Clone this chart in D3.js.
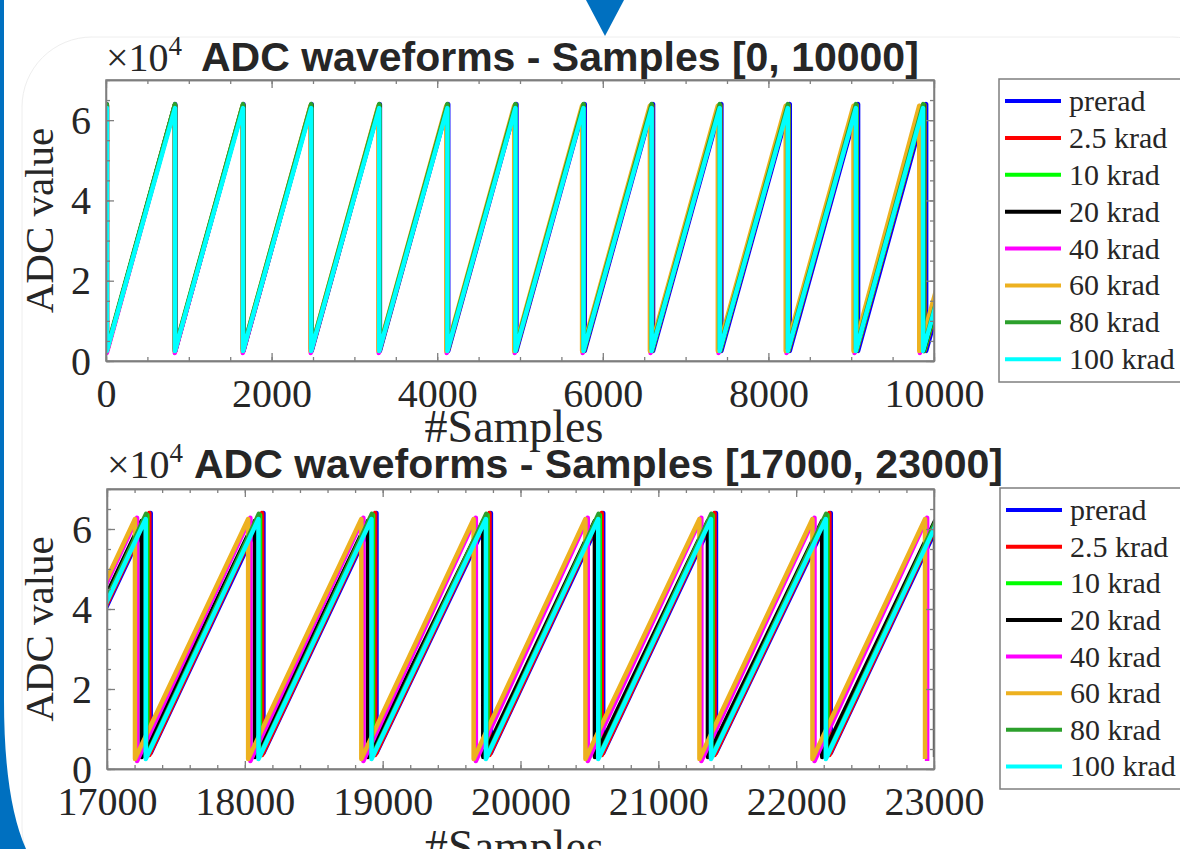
<!DOCTYPE html>
<html>
<head>
<meta charset="utf-8">
<script src="https://cdn.jsdelivr.net/npm/d3@7"></script>
<style>
  html, body { margin: 0; padding: 0; background: #fff; }
  svg { display: block; }
</style>
</head>
<body>
<svg width="1180" height="849"></svg>
<script>
// series, in drawing order (last one ends up on top)
const seriesNames = ['prerad', '2.5 krad', '10 krad', '20 krad', '40 krad', '60 krad', '80 krad', '100 krad'];
const seriesColors = ['#0000ff', '#ff0000', '#00ff00', '#000000', '#ff00ff', '#edb120', '#2ca02c', '#00ffff'];

const topTicksX = [0, 2000, 4000, 6000, 8000, 10000];
const bottomTicksX = [17000, 18000, 19000, 20000, 21000, 22000, 23000];
const ticksY = [0, 2, 4, 6];

// value at sample 0 (x10^4), top window
const topFirst = [6.3, 6.3, 6.3, 6.3, 6.3, 6.3, 6.3, 6.3];
// sample index where each ramp resets, top window [0, 10000]
const topResets = [
  [10, 836, 1660, 2484, 3308, 4133, 4957, 5782, 6607, 7432, 8258, 9083, 9905, 10730],
  [10, 834, 1657, 2480, 3303, 4126, 4949, 5772, 6596, 7419, 8243, 9066, 9885, 10710],
  [10, 833, 1656, 2479, 3302, 4125, 4947, 5770, 6593, 7416, 8239, 9062, 9880, 10705],
  [10, 833, 1655, 2478, 3300, 4122, 4944, 5766, 6589, 7411, 8233, 9055, 9872, 10695],
  [10, 831, 1652, 2473, 3294, 4115, 4936, 5757, 6577, 7398, 8219, 9040, 9830, 10650],
  [10, 830, 1650, 2470, 3290, 4110, 4930, 5750, 6569, 7389, 8209, 9028, 9822, 10640],
  [10, 833, 1655, 2478, 3300, 4123, 4945, 5767, 6590, 7413, 8236, 9058, 9870, 10695],
  [10, 833, 1655, 2478, 3300, 4123, 4945, 5767, 6590, 7412, 8235, 9057, 9868, 10690]
];
const topPeaks = [6.4, 6.38, 6.38, 6.38, 6.35, 6.36, 6.4, 6.3];
const topLows = [0.25, 0.25, 0.25, 0.25, 0.2, 0.25, 0.3, 0.25];

// sample index where each ramp resets, bottom window [17000, 23000]
const bottomResets = [
  [16497, 17317, 18135, 18955, 19785, 20600, 21418, 22251, 23070],
  [16487, 17307, 18125, 18945, 19775, 20590, 21408, 22241, 23060],
  [16472, 17292, 18110, 18930, 19760, 20575, 21393, 22226, 23045],
  [16435, 17252, 18073, 18893, 19730, 20540, 21360, 22189, 23008],
  [16398, 17218, 18040, 18860, 19676, 20488, 21312, 22133, 22950],
  [16383, 17203, 18024, 18845, 19660, 20471, 21298, 22118, 22935],
  [16464, 17284, 18102, 18922, 19752, 20567, 21385, 22218, 23037],
  [16461, 17281, 18099, 18919, 19749, 20564, 21382, 22215, 23034]
];
const bottomPeaks = [6.4, 6.4, 6.35, 6.2, 6.28, 6.25, 6.38, 6.25];
const bottomLows = [0.4, 0.35, 0.35, 0.3, 0.2, 0.25, 0.3, 0.25];

const svg = d3.select('svg');
const axisGray = '#7f7f7f';
const textColor = '#262626';
const serif = '"Liberation Serif", "Times New Roman", serif';
const sans = '"Liberation Sans", Arial, sans-serif';

// ---- slide background ----
svg.append('rect').attr('width', 1180).attr('height', 849).attr('fill', '#fff');
svg.append('rect')
  .attr('x', 22).attr('y', 37).attr('width', 1220).attr('height', 860)
  .attr('rx', 70).attr('fill', 'none').attr('stroke', '#eeeeee').attr('stroke-width', 1);
svg.append('path')
  .attr('d', 'M0,0 H4 V700 Q4,800 26,849 H0 Z')
  .attr('fill', '#0070c0');
svg.append('path')
  .attr('d', 'M586,0 L624,0 L605,36 Z')
  .attr('fill', '#0070c0');

// build the polyline vertices of one sawtooth series
function sawtooth(resets, peak, low, first) {
  const pts = [];
  if (first != null) pts.push([0, first]);
  resets.forEach(r => {
    pts.push([r, peak]);
    pts.push([r, low]);
  });
  return pts;
}

function drawPanel(cfg) {
  const { id, x, y, xTicks, xMinor, resets, peaks, lows, firsts, title, titleX, titleY, labelY, legendBox } = cfg;
  const [xl, xr] = x.range();
  const [yb, yt] = y.range();
  const g = svg.append('g');

  g.append('clipPath').attr('id', id)
    .append('rect').attr('x', xl).attr('y', yt).attr('width', xr - xl).attr('height', yb - yt);

  const line = d3.line().x(d => x(d[0])).y(d => y(d[1]));

  const lines = g.append('g').attr('clip-path', `url(#${id})`);
  resets.forEach((r, i) => {
    lines.append('path')
      .attr('d', line(sawtooth(r, peaks[i], lows[i], firsts ? firsts[i] : null)))
      .attr('fill', 'none')
      .attr('stroke', seriesColors[i])
      .attr('stroke-width', 4.5)
      .attr('stroke-linejoin', 'round');
  });

  const yMinor = d3.range(0, 7.01, 0.5);

  // bottom axis with labels
  const bottom = g.append('g').attr('transform', `translate(0,${yb})`)
    .call(d3.axisBottom(x).tickValues(xTicks).tickSize(-8).tickSizeOuter(0).tickFormat(d3.format('d')));
  bottom.selectAll('text')
    .attr('y', 46).attr('dy', null)
    .attr('fill', textColor)
    .style('font-family', serif).style('font-size', '40px');
  g.append('g').attr('transform', `translate(0,${yb})`)
    .call(d3.axisBottom(x).tickValues(xMinor).tickSize(-4).tickSizeOuter(0).tickFormat(''));
  g.append('g').attr('transform', `translate(0,${yt})`)
    .call(d3.axisTop(x).tickValues(xTicks).tickSize(-8).tickSizeOuter(0).tickFormat(''));
  g.append('g').attr('transform', `translate(0,${yt})`)
    .call(d3.axisTop(x).tickValues(xMinor).tickSize(-4).tickSizeOuter(0).tickFormat(''));

  const left = g.append('g').attr('transform', `translate(${xl},0)`)
    .call(d3.axisLeft(y).tickValues(ticksY).tickSize(-8).tickSizeOuter(0).tickFormat(d3.format('d')));
  left.selectAll('text')
    .attr('x', -15).attr('dy', '0.33em')
    .attr('fill', textColor)
    .style('font-family', serif).style('font-size', '40px');
  g.append('g').attr('transform', `translate(${xl},0)`)
    .call(d3.axisLeft(y).tickValues(yMinor).tickSize(-4).tickSizeOuter(0).tickFormat(''));
  g.append('g').attr('transform', `translate(${xr},0)`)
    .call(d3.axisRight(y).tickValues(ticksY).tickSize(-8).tickSizeOuter(0).tickFormat(''));
  g.append('g').attr('transform', `translate(${xr},0)`)
    .call(d3.axisRight(y).tickValues(yMinor).tickSize(-4).tickSizeOuter(0).tickFormat(''));

  g.selectAll('.domain, .tick line').attr('stroke', axisGray).attr('stroke-width', 1.3);
  g.append('rect')
    .attr('x', xl).attr('y', yt).attr('width', xr - xl).attr('height', yb - yt)
    .attr('fill', 'none').attr('stroke', axisGray).attr('stroke-width', 1.5);

  // exponent
  const expo = g.append('text')
    .attr('x', xl).attr('y', titleY)
    .attr('fill', textColor)
    .style('font-family', serif).style('font-size', '40px');
  expo.append('tspan').text('\u00d710');
  expo.append('tspan').attr('dy', -16).style('font-size', '27px').text('4');

  // title
  g.append('text')
    .attr('x', titleX).attr('y', titleY)
    .attr('fill', textColor)
    .style('font-family', sans).style('font-weight', 'bold').style('font-size', '41px')
    .text(title);

  // axis labels
  g.append('text')
    .attr('x', (xl + xr) / 2 - 6).attr('y', labelY)
    .attr('text-anchor', 'middle')
    .attr('fill', textColor)
    .style('font-family', serif).style('font-size', '46px')
    .text('#Samples');
  g.append('text')
    .attr('transform', `translate(53,${(yt + yb) / 2}) rotate(-90)`)
    .attr('text-anchor', 'middle')
    .attr('fill', textColor)
    .style('font-family', serif).style('font-size', '41px')
    .text('ADC value');

  // legend
  const [lx, ly, lh] = legendBox;
  const leg = g.append('g');
  leg.append('rect')
    .attr('x', lx).attr('y', ly).attr('width', 220).attr('height', lh)
    .attr('fill', '#fff').attr('stroke', axisGray).attr('stroke-width', 1.5);
  const step = (lh - 8) / seriesNames.length;
  seriesNames.forEach((name, i) => {
    const cy = ly + 22 + i * step;
    leg.append('line')
      .attr('x1', lx + 6).attr('x2', lx + 62).attr('y1', cy).attr('y2', cy)
      .attr('stroke', seriesColors[i]).attr('stroke-width', 4);
    leg.append('text')
      .attr('x', lx + 70).attr('y', cy + 10)
      .attr('fill', textColor)
      .style('font-family', serif).style('font-size', '30px')
      .text(name);
  });
}

drawPanel({
  id: 'clipTop',
  x: d3.scaleLinear().domain([0, 10000]).range([106, 934]),
  y: d3.scaleLinear().domain([0, 7]).range([361, 80]),
  xTicks: topTicksX,
  xMinor: d3.range(0, 10001, 500),
  resets: topResets, peaks: topPeaks, lows: topLows, firsts: topFirst,
  title: 'ADC waveforms - Samples [0, 10000]',
  titleX: 201, titleY: 71, labelY: 442,
  legendBox: [999, 79, 303]
});

drawPanel({
  id: 'clipBottom',
  x: d3.scaleLinear().domain([17000, 23000]).range([107, 934]),
  y: d3.scaleLinear().domain([0, 7]).range([769, 489]),
  xTicks: bottomTicksX,
  xMinor: d3.range(17000, 23001, 200),
  resets: bottomResets, peaks: bottomPeaks, lows: bottomLows, firsts: null,
  title: 'ADC waveforms - Samples [17000, 23000]',
  titleX: 194, titleY: 478, labelY: 862,
  legendBox: [1000, 488, 301]
});
</script>
</body>
</html>
